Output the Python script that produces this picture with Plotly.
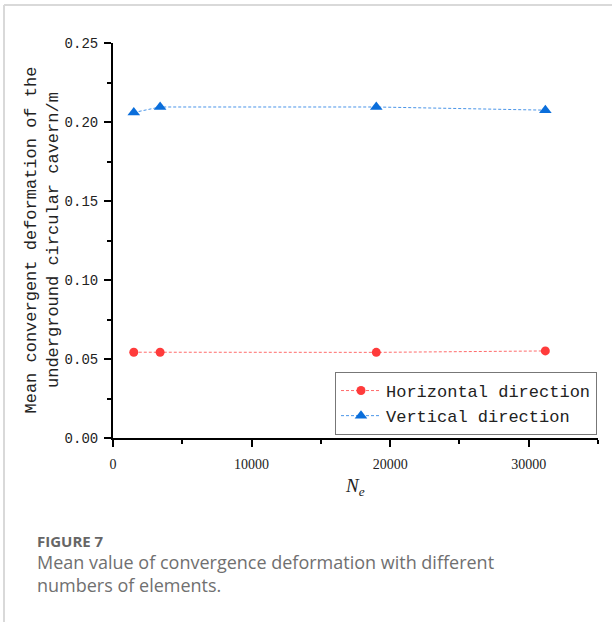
import plotly.graph_objects as go

# Data
n_elements = [1500, 3400, 19000, 31200]
horizontal = [0.0543, 0.0543, 0.0542, 0.0551]
vertical = [0.2060, 0.2095, 0.2095, 0.2075]
series_names = ["Horizontal direction", "Vertical direction"]
y_ticks = [0.00, 0.05, 0.10, 0.15, 0.20, 0.25]
y_tick_labels = ["0.00", "0.05", "0.10", "0.15", "0.20", "0.25"]
x_ticks = [0, 10000, 20000, 30000]
x_tick_labels = ["0", "10000", "20000", "30000"]

W, H = 612, 622
L, R, T, B = 113, 598, 43, 438
pw, ph = R - L, B - T

def px(x):
    return (x - L) / pw

def py(y):
    return (B - y) / ph

mono = "Liberation Mono"
serif = "Liberation Serif"

fig = go.Figure()
fig.add_trace(go.Scatter(
    x=n_elements, y=horizontal, name=series_names[0], mode="lines+markers",
    line=dict(color="#FF6B6B", width=1, dash="3px,2px"),
    marker=dict(symbol="circle", size=9, color="#FF3B3B"),
))
fig.add_trace(go.Scatter(
    x=n_elements, y=vertical, name=series_names[1], mode="lines+markers",
    line=dict(color="#4A95E8", width=1, dash="3px,2px"),
    marker=dict(symbol="triangle-up", size=11, color="#0A6EDB"),
))

fig.update_layout(
    width=W, height=H,
    margin=dict(l=L, r=W - R, t=T, b=H - B, pad=0),
    paper_bgcolor="white", plot_bgcolor="white",
    showlegend=True,
    legend=dict(
        x=px(335), y=py(372), xanchor="left", yanchor="top",
        bordercolor="#777777", borderwidth=1, bgcolor="white",
        font=dict(family=mono, size=17, color="#222222"),
        tracegroupgap=0, itemwidth=40,
    ),
    xaxis=dict(
        range=[0, 35000], showline=True, linecolor="black", linewidth=2,
        showgrid=False, zeroline=False, mirror=False,
        tickmode="array", tickvals=x_ticks, ticktext=x_tick_labels,
        ticks="outside", ticklen=7, tickwidth=1.5, tickcolor="black",
        tickfont=dict(family=serif, size=14, color="#222222"),
        ticklabelstandoff=5,
        minor=dict(dtick=5000, tick0=0, ticks="outside", ticklen=4, tickwidth=1.5, tickcolor="black"),
    ),
    yaxis=dict(
        range=[0, 0.25], showline=True, linecolor="black", linewidth=2,
        showgrid=False, zeroline=False, mirror=False,
        tickmode="array", tickvals=y_ticks, ticktext=y_tick_labels,
        ticks="outside", ticklen=7, tickwidth=1.5, tickcolor="black",
        tickfont=dict(family=mono, size=14, color="#222222"),
        ticklabelstandoff=3,
        minor=dict(dtick=0.025, tick0=0, ticks="outside", ticklen=4, tickwidth=1.5, tickcolor="black"),
    ),
)

annotations = [
    dict(text="Mean convergent deformation of the<br>underground circular cavern/m",
         x=px(42), y=py(240.5), xref="paper", yref="paper", textangle=-90,
         xanchor="center", yanchor="middle", showarrow=False,
         font=dict(family=mono, size=17, color="#222222")),
    dict(text="<i>N</i><sub><i>e</i></sub>",
         x=px(355), y=py(487), xref="paper", yref="paper",
         xanchor="center", yanchor="middle", showarrow=False,
         font=dict(family=serif, size=19, color="#222222")),
    dict(text="<b>FIGURE 7</b>",
         x=px(35), y=py(541), xref="paper", yref="paper",
         xanchor="left", yanchor="middle", showarrow=False,
         font=dict(family="Open Sans", size=15, color="#666666")),
    dict(text="Mean value of convergence deformation with different",
         x=px(35), y=py(562), xref="paper", yref="paper",
         xanchor="left", yanchor="middle", showarrow=False,
         font=dict(family="Open Sans", size=18, color="#707070")),
    dict(text="numbers of elements.",
         x=px(35), y=py(585), xref="paper", yref="paper",
         xanchor="left", yanchor="middle", showarrow=False,
         font=dict(family="Open Sans", size=18, color="#707070")),
]
fig.update_layout(annotations=annotations)

fig.update_layout(shapes=[
    dict(type="line", xref="paper", yref="paper", x0=px(4), x1=px(612), y0=py(5), y1=py(5),
         line=dict(color="#D9D9D9", width=2)),
    dict(type="line", xref="paper", yref="paper", x0=px(4), x1=px(4), y0=py(5), y1=py(622),
         line=dict(color="#D9D9D9", width=2)),
])

fig.write_html("out.html")
